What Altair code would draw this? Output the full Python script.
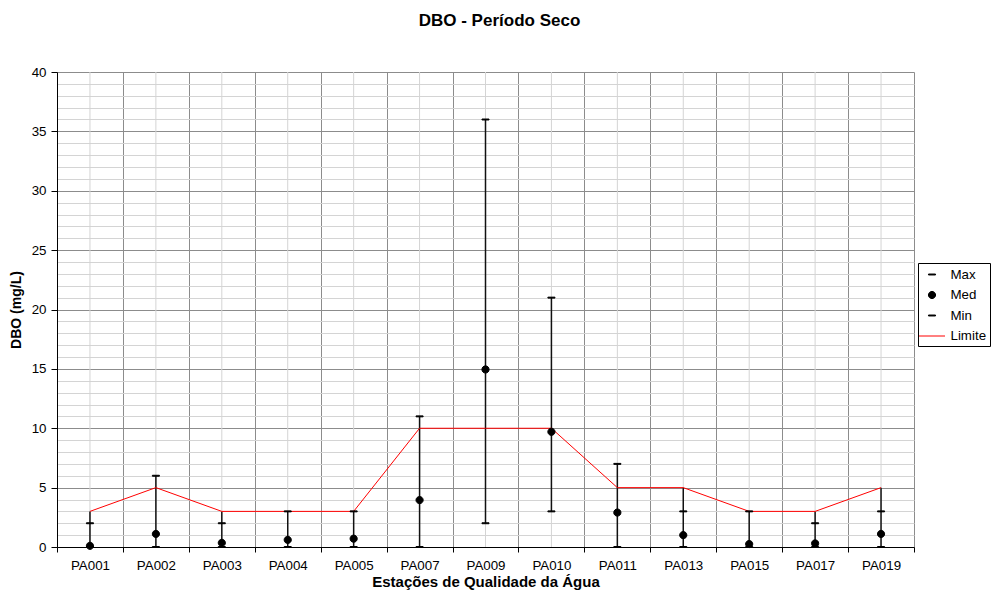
import altair as alt
import pandas as pd

# ---- data ----
stations = ["PA001", "PA002", "PA003", "PA004", "PA005", "PA007", "PA009",
            "PA010", "PA011", "PA013", "PA015", "PA017", "PA019"]
max_vals = [2, 6, 2, 3, 3, 11, 36, 21, 7, 3, 3, 2, 3]
med_vals = [0.1, 1.1, 0.35, 0.6, 0.7, 3.95, 14.95, 9.7, 2.9, 1.0, 0.25, 0.3, 1.1]
min_vals = [0, 0, 0, 0, 0, 0, 2, 3, 0, 0, 0, 0, 0]
lim_vals = [3, 5, 3, 3, 3, 10, 10, 10, 5, 5, 3, 3, 5]

series = ["Max", "Med", "Min", "Limite"]
series_colors = ["#000000", "#000000", "#000000", "#ff0000"]
dash = "M-0.44,-0.06H0.44V0.06H-0.44Z"
dot = "M-0.45,0A0.45,0.45,0,1,1,0.45,0A0.45,0.45,0,1,1,-0.45,0Z"
line_sym = "M-1.625,0H1.625"
series_shapes = [dash, dot, dash, line_sym]

wide = pd.DataFrame({"Estacao": stations, "Max": max_vals, "Med": med_vals,
                     "Min": min_vals, "Limite": lim_vals})
long = wide.melt(id_vars="Estacao", value_vars=["Max", "Med", "Min"],
                 var_name="Serie", value_name="Valor")

FONT = "Liberation Sans"
MAJOR = "#8c8c8c"
MINOR = "#d4d4d4"

x_axis = alt.Axis(title="Estações de Qualidade da Água", titleFont=FONT,
                  titleFontSize=15, titleFontWeight="bold", titlePadding=3,
                  titleColor="black", labelFont=FONT, labelFontSize=13.33,
                  labelColor="black", labelPadding=6, labelAngle=0,
                  tickSize=5, tickColor="black", domainColor="black",
                  grid=True, gridColor=MAJOR, tickBand="extent")
x_enc = alt.X("Estacao:N", sort=stations,
              scale=alt.Scale(type="band", paddingInner=0, paddingOuter=0),
              axis=x_axis)

y_axis = alt.Axis(title="DBO (mg/L)", titleFont=FONT, titleFontSize=14,
                  titleFontWeight="bold", titleColor="black", titlePadding=7.5,
                  values=list(range(0, 41)),
                  labelExpr="datum.value % 5 === 0 ? datum.label : ''",
                  labelOverlap=False, labelFont=FONT, labelFontSize=13.33,
                  labelColor="black", labelPadding=5, tickSize=6,
                  tickColor="black", domainColor="black",
                  tickOpacity=alt.condition("datum.value % 5 === 0", alt.value(1), alt.value(0)),
                  grid=True,
                  gridColor=alt.condition("datum.value % 5 === 0", alt.value(MAJOR), alt.value(MINOR)))
y_scale = alt.Scale(domain=[0, 40], nice=False, zero=True)

leg = alt.Legend(title=None, orient="none", legendX=861, legendY=191,
                 padding=3, strokeColor="black", fillColor="white",
                 cornerRadius=0, symbolSize=256, symbolStrokeWidth=1,
                 symbolOffset=2.5, labelOffset=10, labelFont=FONT,
                 labelFontSize=13.33, labelColor="black", rowPadding=5.5)

# minor vertical grid lines at station centres
minor_v = alt.Chart(wide).mark_rule(color=MINOR, strokeWidth=1).encode(
    x=x_enc, y=alt.datum(0, scale=y_scale, axis=y_axis), y2=alt.datum(40))

# high-low lines
hilo = alt.Chart(wide).transform_calculate(
    lo="min(datum.Min, datum.Limite)", hi="max(datum.Max, datum.Limite)"
).mark_rule(color="#111111", strokeWidth=1.5).encode(
    x=x_enc, y=alt.Y("lo:Q", scale=y_scale, axis=y_axis), y2="hi:Q")

limite = alt.Chart(wide).mark_line(color="#ff0000", strokeWidth=1).encode(
    x=x_enc, y=alt.Y("Limite:Q", scale=y_scale, axis=y_axis))

points = alt.Chart(long).mark_point(filled=True, size=256, strokeWidth=1, opacity=1).encode(
    x=x_enc,
    y=alt.Y("Valor:Q", scale=y_scale, axis=y_axis),
    fill=alt.Fill("Serie:N", scale=alt.Scale(domain=series, range=series_colors), legend=leg),
    stroke=alt.Stroke("Serie:N", scale=alt.Scale(domain=series, range=series_colors), legend=leg),
    shape=alt.Shape("Serie:N", scale=alt.Scale(domain=series, range=series_shapes), legend=leg),
)

chart = alt.layer(minor_v, hilo, limite, points).properties(
    width=857, height=475,
    autosize=alt.AutoSizeParams(type="none"),
    padding={"left": 49, "top": 64, "right": 77, "bottom": 44},
    background="white",
    title=alt.TitleParams("DBO - Período Seco", font=FONT, fontSize=17,
                          fontWeight="bold", anchor="middle", offset=35,
                          dx=14, color="black"),
).configure_view(stroke=None)

chart.save("out.html", embed_options={"renderer": "svg", "actions": False})
